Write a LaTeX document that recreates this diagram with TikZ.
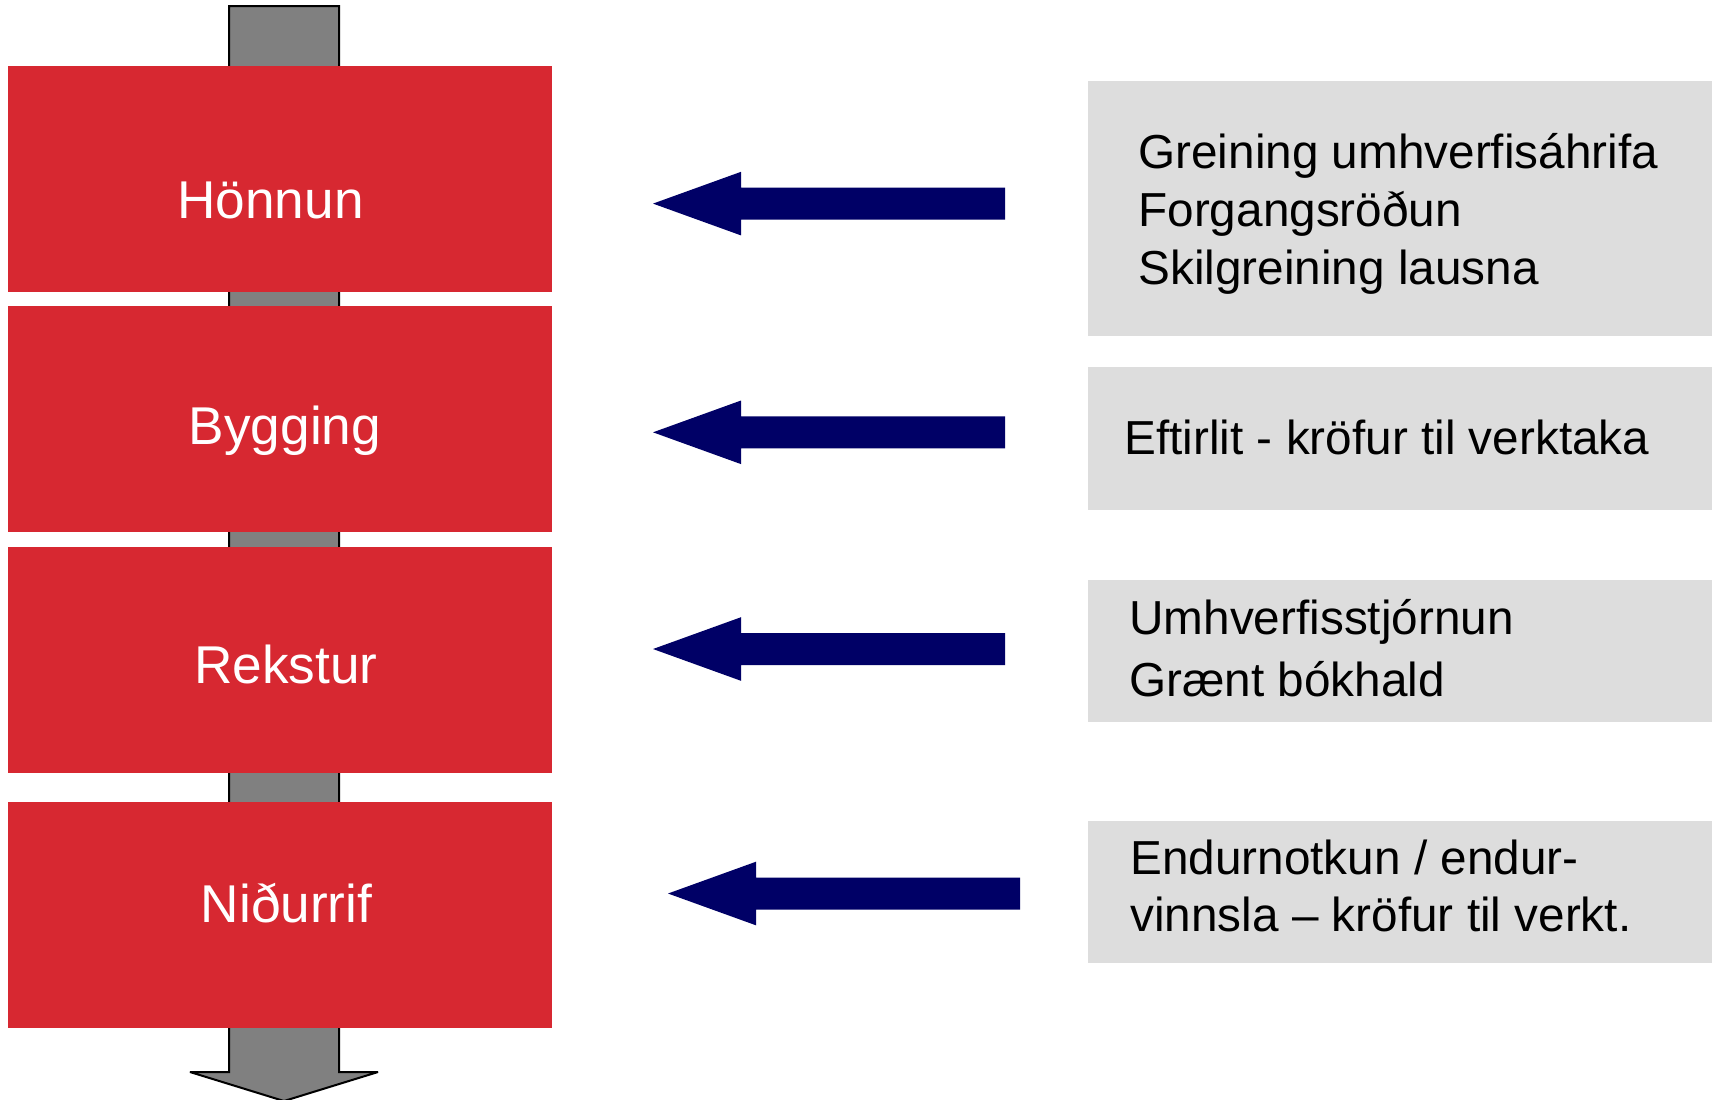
\documentclass[tikz,border=0pt]{standalone}
\usepackage{fontspec}
\setmainfont{Liberation Sans}
\definecolor{phasered}{RGB}{215,40,49}
\definecolor{notegray}{RGB}{221,221,221}
\definecolor{arrownavy}{RGB}{0,0,102}
\definecolor{shaftgray}{RGB}{128,128,128}
\begin{document}
\begin{tikzpicture}[x=0.5pt,y=-0.5pt,
  redbox/.style={fill=phasered, draw=none, minimum width=272pt, minimum height=112.75pt, inner sep=0pt, outer sep=0pt, anchor=north west},
  notebox/.style={fill=notegray, draw=none, minimum width=312pt, inner sep=0pt, outer sep=0pt, anchor=north west},
  phaselabel/.style={text=white, font=\fontsize{26.6pt}{31pt}\selectfont, inner sep=0pt, anchor=base},
  notetext/.style={text=black, font=\fontsize{23.85pt}{29pt}\selectfont, inner sep=0pt, anchor=base west},
  blockarrow/.style={fill=arrownavy, draw=none},
  flowarrow/.style={fill=shaftgray, draw=black, line width=1pt, line join=miter, miter limit=3}
]
\fill[white] (0,0) rectangle (1716,1099);
\clip (0,0) rectangle (1716,1099);

% vertical process arrow
\draw[flowarrow] (229,6) -- (339,6) -- (339,1072) -- (378,1072) -- (284,1101) -- (190,1072) -- (229,1072) -- cycle;

% phase boxes
\node[redbox] (hon) at (8,66) {};
\node[redbox] (byg) at (8,306) {};
\node[redbox] (rek) at (8,547) {};
\node[redbox] (nid) at (8,802) {};

\node[phaselabel] (honlab) at (270.5,218) {Hönnun};
\node[phaselabel] (byglab) at (285,444) {Bygging};
\node[phaselabel] (reklab) at (286,683.5) {Rekstur};
\node[phaselabel] (nidlab) at (286.5,922) {Niðurrif};

% note boxes
\node[notebox, minimum height=127.5pt] (nA) at (1088,81) {};
\node[notebox, minimum height=71.5pt] (nB) at (1088,367) {};
\node[notebox, minimum height=71pt] (nC) at (1088,580) {};
\node[notebox, minimum height=71pt] (nD) at (1088,821) {};

\node[notetext] (tA1) at (1138,168) {Greining umhverfisáhrifa};
\node[notetext] (tA2) at (1138,226) {Forgangsröðun};
\node[notetext] (tA3) at (1138,284) {Skilgreining lausna};
\node[notetext] (tB1) at (1124,454) {Eftirlit - kröfur til verktaka};
\node[notetext] (tC1) at (1129,634) {Umhverfisstjórnun};
\node[notetext] (tC2) at (1129,696) {Grænt bókhald};
\node[notetext] (tD1) at (1130,874) {Endurnotkun / endur-};
\node[notetext] (tD2) at (1130,931) {vinnsla – kröfur til verkt.};

% block arrows
\fill[blockarrow] (653,203.6) -- ++(88,-31.8) -- ++(0,15.8) -- ++(264,0) -- ++(0,32) -- ++(-264,0) -- ++(0,15.8) -- cycle;
\fill[blockarrow] (653,432.3) -- ++(88,-31.8) -- ++(0,15.8) -- ++(264,0) -- ++(0,32) -- ++(-264,0) -- ++(0,15.8) -- cycle;
\fill[blockarrow] (653,649) -- ++(88,-31.8) -- ++(0,15.8) -- ++(264,0) -- ++(0,32) -- ++(-264,0) -- ++(0,15.8) -- cycle;
\fill[blockarrow] (668,893.5) -- ++(88,-31.8) -- ++(0,15.8) -- ++(264,0) -- ++(0,32) -- ++(-264,0) -- ++(0,15.8) -- cycle;
\end{tikzpicture}
\end{document}
